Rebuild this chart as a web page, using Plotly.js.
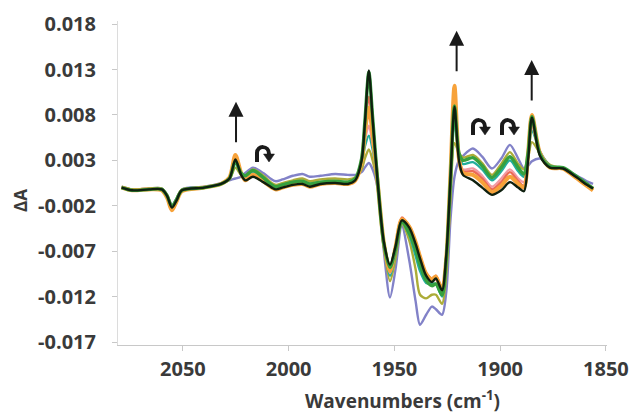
<!DOCTYPE html>
<html>
<head>
<meta charset="utf-8">
<script src="https://cdn.plot.ly/plotly-3.0.1.min.js"></script>
<style>html,body{margin:0;padding:0;background:#fff;}#chart{width:635px;height:413px;}</style>
</head>
<body>
<div id="chart"></div>
<script>
// Wavenumbers (cm-1)
var wavenumbers = [2079, 2074, 2066, 2060, 2057.5, 2055.2, 2053, 2050.5, 2040, 2032, 2028, 2025.2, 2022.5, 2020.5, 2016.9, 2012, 2008, 2006, 2003, 1998, 1993.5, 1990, 1985, 1978, 1972, 1968.5, 1965.5, 1964, 1962.1, 1960.3, 1958, 1955, 1952.1, 1949.5, 1946.5, 1943, 1940, 1937.9, 1935, 1932.3, 1930.4, 1927.5, 1925.5, 1923.5, 1921.6, 1919.5, 1917.6, 1912.9, 1908.5, 1903.9, 1899.5, 1895.4, 1891.5, 1888.8, 1886.8, 1885, 1881.2, 1876.5, 1870.3, 1863.7, 1859, 1856.1];

var purple = [0.0001, -0.0002, -0.0001, -0.0001, -0.0008, -0.0019, -0.0012, -0.0002, 0.0001, 0.0005, 0.0008, 0.0010, 0.0012, 0.0016, 0.0022, 0.0016, 0.0009, 0.0007, 0.0009, 0.0013, 0.0015, 0.0012, 0.0013, 0.0015, 0.0014, 0.0014, 0.0017, 0.0022, 0.0027, 0.0020, 0.0000, -0.0070, -0.0121, -0.0090, -0.0042, -0.0080, -0.0125, -0.0151, -0.0140, -0.0131, -0.0134, -0.0140, -0.0115, -0.0035, 0.0012, 0.0030, 0.0035, 0.0043, 0.0034, 0.0021, 0.0032, 0.0047, 0.0032, 0.0021, 0.0024, 0.0029, 0.0032, 0.0024, 0.0021, 0.0013, 0.0007, 0.0004];

var olive = [0.0001, -0.0002, -0.0001, -0.0001, -0.0008, -0.0020, -0.0013, -0.0002, 0.0000, 0.0004, 0.0009, 0.0022, 0.0014, 0.0013, 0.0020, 0.0013, 0.0005, 0.0003, 0.0005, 0.0008, 0.0010, 0.0007, 0.0009, 0.0010, 0.0009, 0.0011, 0.0020, 0.0032, 0.0042, 0.0030, 0.0004, -0.0065, -0.0103, -0.0078, -0.0040, -0.0058, -0.0090, -0.0118, -0.0122, -0.0118, -0.0118, -0.0128, -0.0095, -0.0010, 0.0049, 0.0038, 0.0033, 0.0036, 0.0027, 0.0014, 0.0026, 0.0039, 0.0026, 0.0020, 0.0033, 0.0050, 0.0038, 0.0025, 0.0021, 0.0012, 0.0004, 0.0000];

var teal = [0.0000, -0.0003, -0.0002, -0.0002, -0.0009, -0.0021, -0.0013, -0.0003, 0.0000, 0.0004, 0.0010, 0.0027, 0.0015, 0.0012, 0.0017, 0.0010, 0.0003, 0.0001, 0.0003, 0.0006, 0.0007, 0.0004, 0.0006, 0.0007, 0.0006, 0.0009, 0.0025, 0.0045, 0.0057, 0.0042, 0.0006, -0.0062, -0.0097, -0.0072, -0.0038, -0.0052, -0.0075, -0.0092, -0.0105, -0.0106, -0.0106, -0.0120, -0.0085, 0.0000, 0.0075, 0.0035, 0.0026, 0.0028, 0.0020, 0.0008, 0.0018, 0.0030, 0.0018, 0.0012, 0.0035, 0.0063, 0.0040, 0.0024, 0.0021, 0.0012, 0.0004, -0.0001];

var pink = [0.0000, -0.0003, -0.0002, -0.0002, -0.0009, -0.0022, -0.0014, -0.0003, 0.0000, 0.0004, 0.0010, 0.0030, 0.0015, 0.0010, 0.0015, 0.0009, 0.0002, 0.0000, 0.0002, 0.0005, 0.0006, 0.0003, 0.0005, 0.0006, 0.0005, 0.0009, 0.0027, 0.0052, 0.0068, 0.0048, 0.0006, -0.0062, -0.0094, -0.0068, -0.0036, -0.0046, -0.0064, -0.0080, -0.0097, -0.0103, -0.0101, -0.0114, -0.0078, 0.0010, 0.0098, 0.0032, 0.0020, 0.0021, 0.0013, 0.0001, 0.0010, 0.0020, 0.0010, 0.0006, 0.0036, 0.0067, 0.0040, 0.0023, 0.0021, 0.0011, 0.0003, -0.0002];

var red = [0.0000, -0.0003, -0.0002, -0.0002, -0.0010, -0.0023, -0.0014, -0.0003, 0.0000, 0.0004, 0.0011, 0.0034, 0.0015, 0.0009, 0.0014, 0.0008, 0.0001, -0.0001, 0.0001, 0.0004, 0.0005, 0.0002, 0.0005, 0.0006, 0.0005, 0.0009, 0.0030, 0.0065, 0.0100, 0.0065, 0.0008, -0.0060, -0.0090, -0.0064, -0.0033, -0.0043, -0.0060, -0.0076, -0.0094, -0.0100, -0.0097, -0.0111, -0.0076, 0.0012, 0.0105, 0.0032, 0.0018, 0.0018, 0.0010, -0.0002, 0.0006, 0.0017, 0.0007, 0.0002, 0.0035, 0.0072, 0.0038, 0.0023, 0.0021, 0.0011, 0.0003, -0.0002];

var orange = [0.0000, -0.0003, -0.0002, -0.0003, -0.0011, -0.0025, -0.0015, -0.0004, 0.0000, 0.0004, 0.0011, 0.0036, 0.0016, 0.0008, 0.0014, 0.0007, 0.0000, -0.0002, 0.0000, 0.0003, 0.0004, 0.0001, 0.0004, 0.0005, 0.0004, 0.0008, 0.0028, 0.0060, 0.0088, 0.0058, 0.0007, -0.0061, -0.0092, -0.0066, -0.0035, -0.0043, -0.0060, -0.0076, -0.0095, -0.0101, -0.0098, -0.0113, -0.0078, 0.0015, 0.0112, 0.0032, 0.0016, 0.0014, 0.0006, -0.0005, 0.0002, 0.0012, 0.0004, 0.0000, 0.0038, 0.0080, 0.0038, 0.0022, 0.0021, 0.0010, 0.0002, -0.0003];

var green = [0.0000, -0.0003, -0.0002, -0.0002, -0.0009, -0.0021, -0.0013, -0.0003, 0.0000, 0.0004, 0.0010, 0.0029, 0.0016, 0.0013, 0.0019, 0.0011, 0.0003, 0.0001, 0.0003, 0.0006, 0.0007, 0.0004, 0.0006, 0.0007, 0.0006, 0.0010, 0.0032, 0.0072, 0.0127, 0.0077, 0.0009, -0.0062, -0.0088, -0.0068, -0.0038, -0.0050, -0.0068, -0.0085, -0.0102, -0.0108, -0.0106, -0.0118, -0.0080, 0.0008, 0.0090, 0.0038, 0.0030, 0.0033, 0.0024, 0.0011, 0.0022, 0.0034, 0.0022, 0.0015, 0.0038, 0.0078, 0.0037, 0.0023, 0.0022, 0.0012, 0.0004, -0.0001];

var black = [0.0000, -0.0003, -0.0002, -0.0002, -0.0009, -0.0022, -0.0014, -0.0003, 0.0000, 0.0004, 0.0010, 0.0031, 0.0014, 0.0008, 0.0012, 0.0006, 0.0000, -0.0002, 0.0000, 0.0003, 0.0004, 0.0001, 0.0004, 0.0005, 0.0004, 0.0008, 0.0030, 0.0070, 0.0129, 0.0075, 0.0008, -0.0060, -0.0085, -0.0065, -0.0036, -0.0044, -0.0062, -0.0078, -0.0097, -0.0104, -0.0100, -0.0113, -0.0075, 0.0010, 0.0089, 0.0030, 0.0014, 0.0008, 0.0000, -0.0008, -0.0003, 0.0006, 0.0000, -0.0004, 0.0030, 0.0077, 0.0035, 0.0022, 0.0021, 0.0011, 0.0003, -0.0001];

var yTickVals = [-0.017, -0.012, -0.007, -0.002, 0.003, 0.008, 0.013, 0.018];
var yTickText = ['-0.017', '-0.012', '-0.007', '-0.002', '0.003', '0.008', '0.013', '0.018'];
var xTickVals = [2050, 2000, 1950, 1900, 1850];
var xTickText = ['2050', '2000', '1950', '1900', '1850'];

var seriesList = [
  {y: purple, color: '#8282c8', w: 2.4},
  {y: olive, color: '#acac38', w: 2.4},
  {y: teal, color: '#22ae9c', w: 2.4},
  {y: pink, color: '#f29aa4', w: 2.4},
  {y: red, color: '#ec6a55', w: 2.4},
  {y: orange, color: '#f7a23a', w: 4},
  {y: green, color: '#36a03e', w: 3.4},
  {y: black, color: '#0f200f', w: 2.4}
];

var traces = seriesList.map(function (s) {
  return {
    x: wavenumbers, y: s.y, type: 'scatter', mode: 'lines',
    line: {color: s.color, width: s.w, shape: 'spline', smoothing: 0.8},
    hoverinfo: 'skip', showlegend: false
  };
});

var L = 118, R = 28, T = 21, B = 68, W = 635, H = 413;
var pw = W - L - R, ph = H - T - B;
function px(x) { return (x - L) / pw; }
function py(y) { return (H - B - y) / ph; }

// curved arrows drawn as shapes (pixel box top-left)
var curvedBoxes = [[255, 145], [471, 118], [500, 118]];
var shapes = [];
curvedBoxes.forEach(function (b) {
  var x0 = b[0], y0 = b[1];
  function P(dx, dy) { return px(x0 + dx).toFixed(5) + ',' + py(y0 + dy).toFixed(5); }
  shapes.push({
    type: 'path', xref: 'paper', yref: 'paper',
    path: 'M' + P(2, 17) + ' L' + P(2, 8) + ' C' + P(2, 0) + ' ' + P(14, 0) + ' ' + P(14, 9),
    line: {color: '#1a1a1a', width: 4}
  });
  shapes.push({
    type: 'path', xref: 'paper', yref: 'paper',
    path: 'M' + P(8.5, 9) + ' L' + P(19.5, 9) + ' L' + P(14, 17) + ' Z',
    fillcolor: '#1a1a1a', line: {color: '#1a1a1a', width: 0.5}
  });
});

var arrowTips = [[2024.9, 0.00945], [1962.4, 0.01853], [1920.6, 0.01727], [1885.1, 0.01405]];
var annotations = arrowTips.map(function (a) {
  return {
    x: a[0], y: a[1], xref: 'x', yref: 'y', text: '', showarrow: true,
    ax: 0, ay: 42, arrowhead: 2, arrowsize: 1.5, arrowwidth: 2, arrowcolor: '#1a1a1a', standoff: 0
  };
});
annotations.push({
  xref: 'paper', yref: 'paper', x: px(402), y: py(400), xanchor: 'center', yanchor: 'middle',
  text: 'Wavenumbers (cm<sup>-1</sup>)', showarrow: false,
  font: {family: 'Open Sans', size: 19, color: '#3a3a3a', weight: 'bold'}
});
annotations.push({
  xref: 'paper', yref: 'paper', x: px(20), y: py(201), xanchor: 'center', yanchor: 'middle',
  text: '\u0394A', textangle: -90, showarrow: false,
  font: {family: 'Open Sans', size: 17, color: '#3a3a3a', weight: 'bold'}
});

var layout = {
  width: W, height: H,
  margin: {l: L, r: R, t: T, b: B, pad: 0},
  paper_bgcolor: '#ffffff', plot_bgcolor: '#ffffff',
  showlegend: false,
  xaxis: {
    range: [2080.7, 1849.5], showgrid: false, zeroline: false,
    showline: true, linecolor: '#c8c8c8', linewidth: 1,
    ticks: 'outside', ticklen: 5, tickcolor: '#c8c8c8',
    tickvals: xTickVals, ticktext: xTickText, ticklabelstandoff: 1,
    tickfont: {family: 'Open Sans', size: 20, color: '#3a3a3a', weight: 'bold'}
  },
  yaxis: {
    range: [-0.01733, 0.01834], showgrid: false, zeroline: false,
    showline: true, linecolor: '#dcdcdc', linewidth: 1,
    ticks: 'outside', ticklen: 5, tickcolor: '#c8c8c8',
    tickvals: yTickVals, ticktext: yTickText, ticklabelstandoff: 12,
    tickfont: {family: 'Open Sans', size: 20, color: '#3a3a3a', weight: 'bold'}
  },
  shapes: shapes,
  annotations: annotations
};

Plotly.newPlot('chart', traces, layout, {staticPlot: true, displayModeBar: false});
</script>
</body>
</html>
